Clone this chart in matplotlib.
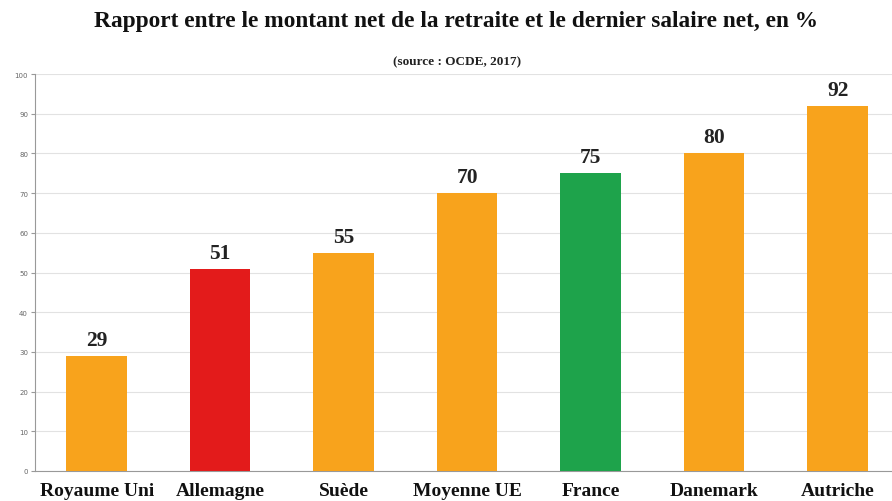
import matplotlib.pyplot as plt

pays = ["Royaume Uni", "Allemagne", "Suède", "Moyenne UE", "France", "Danemark", "Autriche"]
taux = [29, 51, 55, 70, 75, 80, 92]
couleurs = ["#F8A31C", "#E31B1B", "#F8A31C", "#F8A31C", "#1EA34B", "#F8A31C", "#F8A31C"]
graduations = list(range(0, 101, 10))

plt.rcParams["font.family"] = ["Liberation Serif", "DejaVu Serif"]

fig = plt.figure(figsize=(8.92, 5.02), dpi=100)
ax = fig.add_axes([35 / 892, 30 / 502, 1 - 35 / 892, (472 - 75) / 502])

x = range(len(pays))
ax.bar(x, taux, width=0.49, color=couleurs, zorder=3)
for xi, v in zip(x, taux):
    ax.text(xi, v + 1.5, str(v), ha="center", va="bottom",
            fontsize=15.5, fontweight="bold", color="#222222")

ax.set_xlim(-0.5, 6.44)
ax.set_ylim(0, 100)
ax.set_yticks(graduations)
ax.set_yticklabels([str(g) for g in graduations], fontsize=5, color="#666666",
                   family="DejaVu Sans")
ax.set_xticks(list(x))
ax.set_xticklabels(pays, fontsize=14, fontweight="bold", color="#111111")
ax.tick_params(axis="x", length=0, pad=8)
ax.tick_params(axis="y", length=3, color="#999999", pad=2)
ax.grid(axis="y", color="#e2e2e2", linewidth=0.8, zorder=0)
for s in ["top", "right"]:
    ax.spines[s].set_visible(False)
for s in ["left", "bottom"]:
    ax.spines[s].set_color("#999999")
    ax.spines[s].set_linewidth(0.8)

fig.text(456 / 892, 1 - 22 / 502, "Rapport entre le montant net de la retraite et le dernier salaire net, en %",
         ha="center", va="center", fontsize=16.8, fontweight="bold", color="#111111")
fig.text(457 / 892, 1 - 62 / 502, "(source : OCDE, 2017)", ha="center", va="center",
         fontsize=9.5, fontweight="bold", color="#222222")

fig.savefig("out.png", dpi=100)
